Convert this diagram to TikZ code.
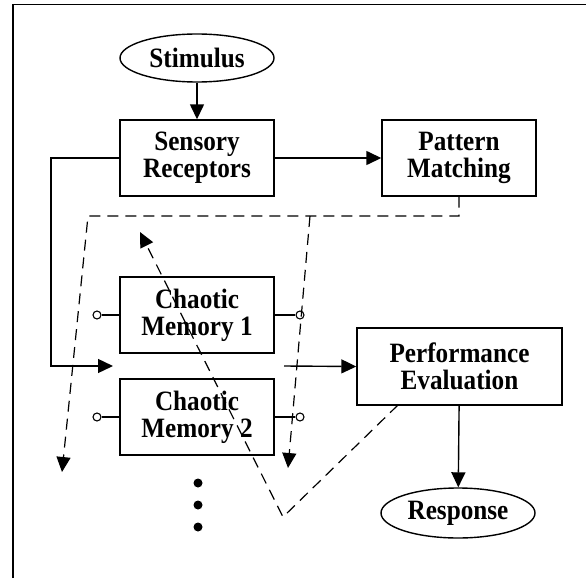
\documentclass[tikz,border=0pt]{standalone}
\usepackage{fontspec}
\setmainfont{Liberation Serif}
\newfontfamily\lblfont{Liberation Serif}[FakeStretch=0.9]
\usetikzlibrary{arrows.meta,shapes.geometric}
\begin{document}
\begin{tikzpicture}[x=1pt,y=-1pt,line width=1.4pt,
  lbl/.style={font=\lblfont\bfseries\fontsize{28}{27}\selectfont,align=center,inner sep=0pt},
  box/.style={lbl,draw,minimum width=154pt,minimum height=76pt},
  oval/.style={lbl,draw,ellipse,minimum width=154pt,minimum height=48pt},
  tip/.style={-{Triangle[length=15pt,width=14pt]}},
  dsh/.style={dash pattern=on 11pt off 7pt,line width=1.2pt},
  circ/.style={circle,draw,fill=white,inner sep=0pt,minimum size=8pt,line width=1.1pt},
  bigdot/.style={circle,fill=black,inner sep=0pt,minimum size=9pt}]
\useasboundingbox (0,0) rectangle (586,578);
\draw (13,578) -- (13,4.5) -- (586,4.5);
\node[oval] (stim) at (197,58) {Stimulus};
\node[box] (sens) at (197,158) {Sensory\\Receptors};
\node[box] (pat) at (459,158) {Pattern\\Matching};
\node[box] (cm1) at (197,315) {Chaotic\\Memory 1};
\node[box] (cm2) at (197,417) {Chaotic\\Memory 2};
\node[box,minimum width=205pt,minimum height=77pt] (perf) at (459.5,366.5) {Performance\\Evaluation};
\node[oval,minimum height=50pt] (resp) at (458,513) {Response};
\node[circ] (c1l) at (97,315) {};
\node[circ] (c1r) at (300,315) {};
\node[circ] (c2l) at (97,417) {};
\node[circ] (c2r) at (300,417) {};
\node[bigdot] (d1) at (198,483) {};
\node[bigdot] (d2) at (198,505) {};
\node[bigdot] (d3) at (198,527) {};
\coordinate (lc1) at (51,158);
\coordinate (ain) at (113,366);
\coordinate (aout) at (284,366);
\coordinate (p1) at (459,216);
\coordinate (p2) at (88,216);
\coordinate (p3) at (62,472);
\coordinate (b1) at (310,216);
\coordinate (b2) at (288,468);
\coordinate (v1) at (398,405);
\coordinate (v2) at (283,517);
\coordinate (v3) at (140,232);
\draw[tip] (stim) -- (sens);
\draw[tip] (sens) -- (pat);
\draw[tip] (sens.west) -- (lc1) |- (ain);
\draw[tip] (aout) -- (perf.west);
\draw[tip] (perf) -- (resp);
\draw (c1l) -- (cm1.west);
\draw (c2l) -- (cm2.west);
\draw (cm1.east) -- (c1r);
\draw (cm2.east) -- (c2r);
\draw[dsh,tip] (pat.south) -- (p1) -- (p2) -- (p3);
\draw[dsh,tip] (b1) -- (b2);
\draw[dsh,tip] (v1) -- (v2) -- (v3);
\end{tikzpicture}
\end{document}
